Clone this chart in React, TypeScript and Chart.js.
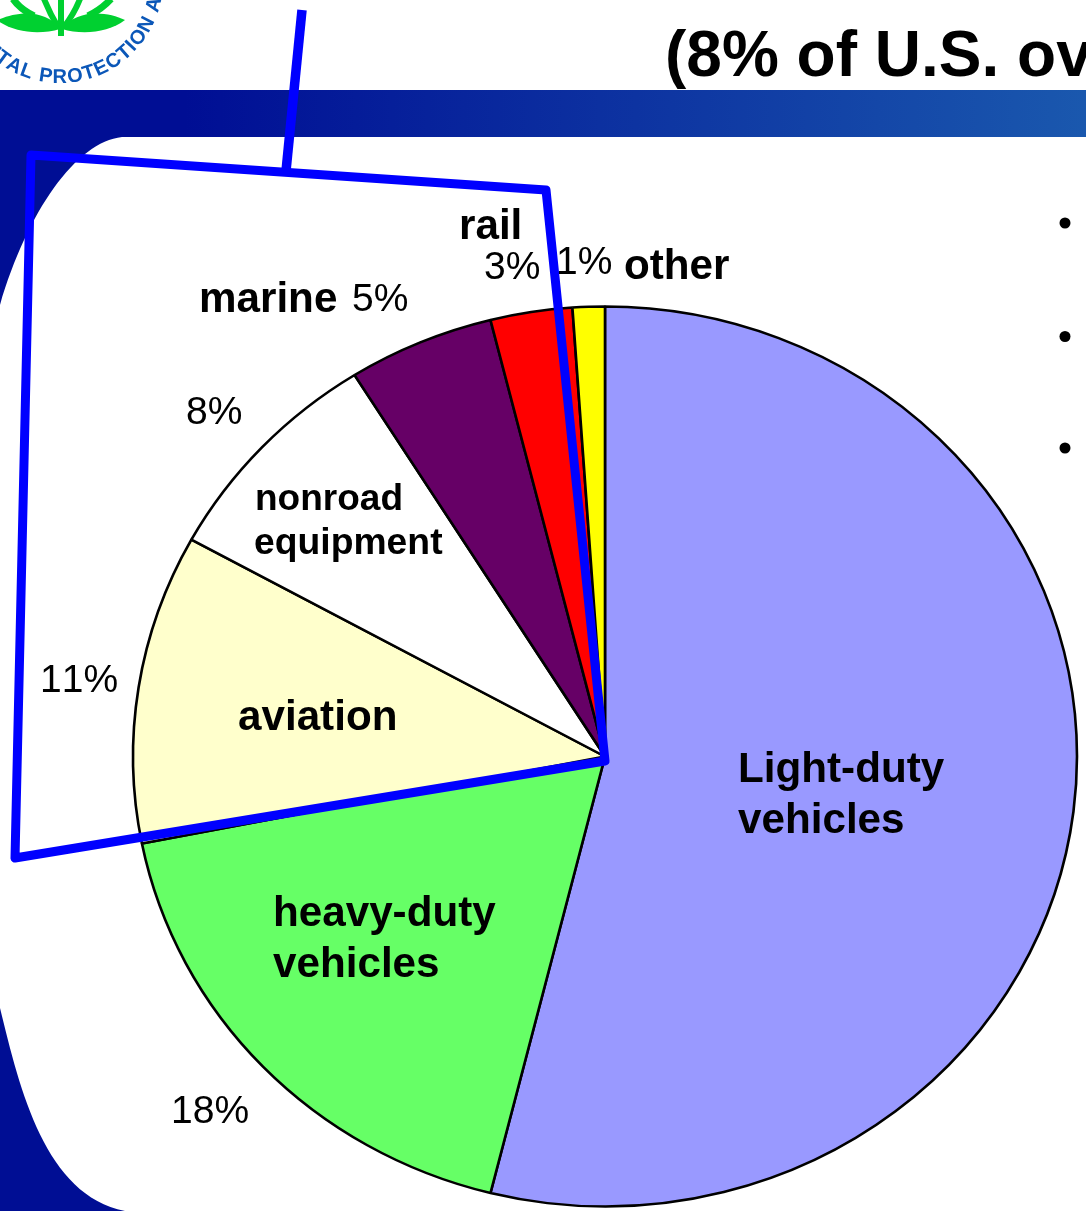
import React, { useEffect, useRef } from "react";
import { Chart, registerables } from "chart.js";

Chart.register(...registerables);

const categories = ["Light-duty vehicles", "heavy-duty vehicles", "aviation", "nonroad equipment", "marine", "rail", "other"];
const shares = [53.9, 18, 11.1, 8.1, 5, 2.8, 1.1];
const percentLabels = ["18%", "11%", "8%", "5%", "3%", "1%"];
const sliceColors = ["#9999FF", "#66FF66", "#FFFFCC", "#FFFFFF", "#660066", "#FF0000", "#FFFF00"];

const SANS = '"Liberation Sans", Arial, sans-serif';
const CX = 605, CY = 756.5, RX = 472, RY = 450;

function text(ctx: CanvasRenderingContext2D, s: string, x: number, y: number, size: number, bold = false, color = "#000") {
  ctx.font = `${bold ? "bold " : ""}${size}px ${SANS}`;
  (ctx as any).fontKerning = "none";
  ctx.fillStyle = color;
  ctx.textAlign = "left";
  ctx.textBaseline = "alphabetic";
  ctx.fillText(s, x, y);
}

function drawLogo(ctx: CanvasRenderingContext2D) {
  ctx.save();
  const green = "#00D030";
  ctx.fillStyle = green;
  ctx.beginPath();
  ctx.moveTo(-2, 20);
  ctx.bezierCurveTo(15, 12, 45, 8, 60, 29);
  ctx.bezierCurveTo(40, 35, 15, 33, -2, 21);
  ctx.fill();
  ctx.beginPath();
  ctx.moveTo(125, 20);
  ctx.bezierCurveTo(108, 12, 78, 8, 62, 29);
  ctx.bezierCurveTo(82, 35, 108, 33, 125, 20);
  ctx.fill();
  ctx.fillRect(58, 0, 6, 36);
  ctx.strokeStyle = green;
  ctx.lineCap = "butt";
  ctx.lineWidth = 6;
  ctx.beginPath();
  ctx.moveTo(44, -1);
  ctx.quadraticCurveTo(50, 14, 58, 27);
  ctx.moveTo(80, -1);
  ctx.quadraticCurveTo(74, 14, 64, 27);
  ctx.stroke();
  ctx.lineWidth = 7;
  ctx.beginPath();
  ctx.moveTo(13, -1);
  ctx.quadraticCurveTo(20, 9, 34, 16);
  ctx.moveTo(111, -1);
  ctx.quadraticCurveTo(102, 9, 88, 16);
  ctx.stroke();
  // ring text
  const str = "NTAL PROTECTION A";
  const cx = 60, cy = -20, r = 103;
  ctx.font = `bold 20px ${SANS}`;
  ctx.fillStyle = "#0B57B8";
  ctx.textAlign = "center";
  ctx.textBaseline = "alphabetic";
  let a = 2.42;
  for (const ch of str) {
    const w = ctx.measureText(ch).width + 1.2;
    a -= w / 2 / r;
    ctx.save();
    ctx.translate(cx + r * Math.cos(a), cy + r * Math.sin(a));
    ctx.rotate(a - Math.PI / 2);
    ctx.fillText(ch, 0, 0);
    ctx.restore();
    a -= w / 2 / r;
  }
  ctx.restore();
}

const backdrop = {
  id: "backdrop",
  beforeDraw(chart: any) {
    const ctx: CanvasRenderingContext2D = chart.ctx;
    const W = chart.width;
    ctx.save();
    ctx.fillStyle = "#fff";
    ctx.fillRect(0, 0, W, chart.height);
    drawLogo(ctx);
    text(ctx, "(8% of U.S. ov", 665, 76, 64, true);
    const g = ctx.createLinearGradient(0, 0, W, 0);
    g.addColorStop(0, "#000E94");
    g.addColorStop(0.17, "#000E94");
    g.addColorStop(1, "#1A58AE");
    ctx.fillStyle = g;
    ctx.fillRect(0, 90, W, 47);
    // dark left margin, with the white panel's rounded corners cut out
    ctx.beginPath();
    ctx.moveTo(0, 137);
    ctx.lineTo(122, 137);
    ctx.bezierCurveTo(75, 142, 25, 215, -2, 312);
    ctx.lineTo(0, 137);
    ctx.closePath();
    ctx.moveTo(0, 1008);
    ctx.bezierCurveTo(20, 1090, 45, 1195, 125, 1211);
    ctx.lineTo(0, 1211);
    ctx.closePath();
    ctx.fill();
    ctx.fillStyle = "#000";
    for (const y of [223, 336.5, 448]) {
      ctx.beginPath();
      ctx.arc(1065, y, 5.5, 0, Math.PI * 2);
      ctx.fill();
    }
    ctx.restore();
  },
  beforeDatasetsDraw(chart: any) {
    const el = chart.getDatasetMeta(0).data[0];
    const ctx = chart.ctx;
    ctx.save();
    ctx.translate(CX, CY);
    ctx.scale(RX / el.outerRadius, RY / el.outerRadius);
    ctx.translate(-el.x, -el.y);
  },
  afterDatasetsDraw(chart: any) {
    const ctx: CanvasRenderingContext2D = chart.ctx;
    ctx.restore();
    ctx.save();
    // callout outline
    ctx.strokeStyle = "#0000FF";
    ctx.lineWidth = 9;
    ctx.lineJoin = "round";
    ctx.beginPath();
    ctx.moveTo(31, 155);
    ctx.lineTo(546, 190);
    ctx.lineTo(605, 761);
    ctx.lineTo(15, 858);
    ctx.closePath();
    ctx.stroke();
    ctx.lineWidth = 9.5;
    ctx.beginPath();
    ctx.moveTo(302, 10);
    ctx.lineTo(286, 171);
    ctx.stroke();
    // slice names
    const N = 42.2;
    text(ctx, "Light-duty", 738, 782, N, true);
    text(ctx, "vehicles", 738, 833, N, true);
    text(ctx, "heavy-duty", 273, 926, N, true);
    text(ctx, "vehicles", 273, 977, N, true);
    text(ctx, "aviation", 238, 730, N, true);
    text(ctx, "nonroad", 255, 510, 37, true);
    text(ctx, "equipment", 254, 554, 37.3, true);
    text(ctx, "marine", 199, 312, N, true);
    text(ctx, "rail", 459, 239, N, true);
    text(ctx, "other", 624, 279, N, true);
    // percentages
    const P = 39;
    const pos = [[171, 1123], [40, 692], [186, 424], [352, 311], [484, 279], [556, 274]];
    percentLabels.forEach((p, i) => text(ctx, p, pos[i][0], pos[i][1], P));
    ctx.restore();
  },
};

export default function App() {
  const ref = useRef<HTMLCanvasElement>(null);
  useEffect(() => {
    document.body.style.margin = "0";
    const chart = new Chart(ref.current!, {
      type: "pie",
      data: {
        labels: categories,
        datasets: [{ data: shares, backgroundColor: sliceColors, borderColor: "#000", borderWidth: 3, borderAlign: "center" }],
      },
      options: {
        animation: false,
        responsive: false,
        devicePixelRatio: 1,
        layout: { padding: 0 },
        plugins: { legend: { display: false }, tooltip: { enabled: false } },
      },
      plugins: [backdrop],
    } as any);
    return () => chart.destroy();
  }, []);
  return <canvas ref={ref} width={1086} height={1211} style={{ display: "block", width: 1086, height: 1211 }} />;
}
